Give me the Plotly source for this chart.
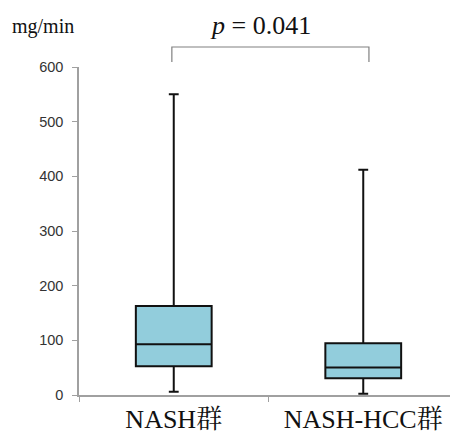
import plotly.graph_objects as go

categories = ["NASH群", "NASH-HCC群"]
q1 = [52.5, 30.5]
median = [93, 50.5]
q3 = [163, 94.5]
lower = [6, 2.5]
upper = [550, 412]
y_ticks = [0, 100, 200, 300, 400, 500, 600]
p_text = "<i>p</i> = 0.041"
unit = "mg/min"

SERIF = "Liberation Serif, Times New Roman, Noto Serif CJK SC, serif"

fig = go.Figure()
fig.add_trace(go.Box(
    x=categories, q1=q1, median=median, q3=q3,
    lowerfence=lower, upperfence=upper,
    fillcolor="#92CDDC", line=dict(color="#111111", width=2),
    width=0.4, whiskerwidth=0.13, boxpoints=False, hoverinfo="skip",
))

fig.update_layout(
    width=450, height=426,
    margin=dict(l=71, r=0, t=59, b=39, autoexpand=False),
    paper_bgcolor="white", plot_bgcolor="white",
    showlegend=False,
    xaxis=dict(
        type="category", range=[-0.5, 1.5],
        showline=True, linecolor="#A0A0A0", linewidth=1.5,
        ticks="outside", tickson="boundaries", ticklen=5, tickcolor="#A0A0A0",
        tickfont=dict(family=SERIF, size=26, color="#111111"),
        showgrid=False, zeroline=False,
    ),
    yaxis=dict(
        range=[0, 600], tickvals=y_ticks,
        showline=True, linecolor="#A0A0A0", linewidth=1.5,
        ticks="outside", ticklen=5, tickcolor="#A0A0A0",
        tickfont=dict(family="Liberation Sans, Arial, sans-serif", size=14.5, color="#333333"),
        ticklabelstandoff=6,
        showgrid=False, zeroline=False,
    ),
)

# unit label
fig.add_annotation(text=unit, xref="paper", yref="paper", x=-0.182, y=1.122,
                   xanchor="left", yanchor="middle", showarrow=False,
                   font=dict(family=SERIF, size=20, color="#111111"))
# p-value text
fig.add_annotation(text=p_text, xref="x", yref="paper", x=0.46, y=1.128,
                   xanchor="center", yanchor="middle", showarrow=False,
                   font=dict(family=SERIF, size=26, color="#111111"))
# bracket
fig.add_shape(type="path", xref="x", yref="paper",
              path="M -0.01,1.015 L -0.01,1.061 L 1.03,1.061 L 1.03,1.015",
              line=dict(color="#808080", width=1.2))

fig.write_html("out.html")
